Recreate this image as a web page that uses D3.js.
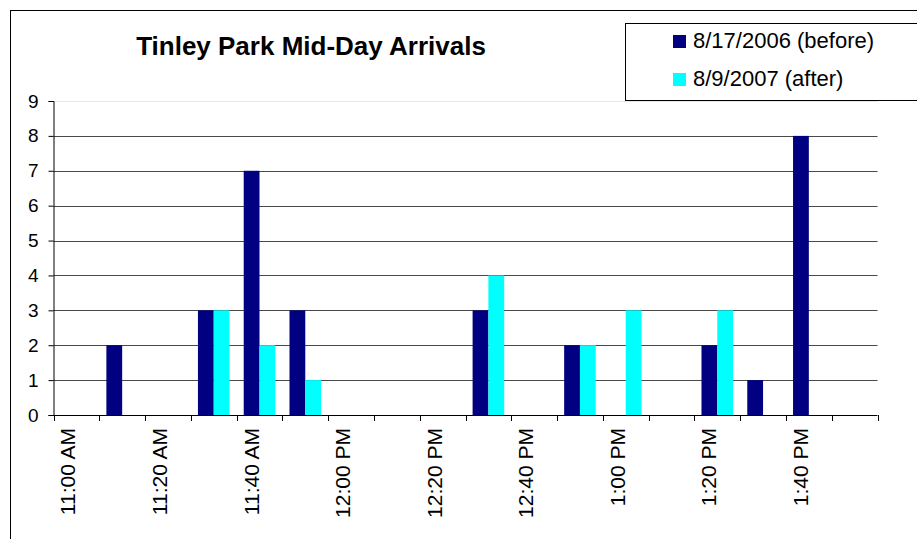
<!DOCTYPE html>
<html>
<head>
<meta charset="utf-8">
<script src="https://cdn.jsdelivr.net/npm/d3@7"></script>
<style>
  body { margin: 0; background: #fff; }
  svg { display: block; font-family: "Liberation Sans", Arial, sans-serif; }
</style>
</head>
<body>
<div id="chart"></div>
<script>
// categories: arrivals per 10 minute slot
const times = ["11:00 AM", "11:10 AM", "11:20 AM", "11:30 AM", "11:40 AM", "11:50 AM",
               "12:00 PM", "12:10 PM", "12:20 PM", "12:30 PM", "12:40 PM", "12:50 PM",
               "1:00 PM", "1:10 PM", "1:20 PM", "1:30 PM", "1:40 PM", "1:50 PM"];
const tickLabels = ["11:00 AM", "11:20 AM", "11:40 AM", "12:00 PM", "12:20 PM",
                    "12:40 PM", "1:00 PM", "1:20 PM", "1:40 PM"];
const before = [0, 2, 0, 3, 7, 3, 0, 0, 0, 3, 0, 2, 0, 0, 2, 1, 8, 0];
const after  = [0, 0, 0, 3, 2, 1, 0, 0, 0, 4, 0, 2, 3, 0, 3, 0, 0, 0];
const seriesNames = ["8/17/2006 (before)", "8/9/2007 (after)"];
const yTicks = [0, 1, 2, 3, 4, 5, 6, 7, 8, 9];

const width = 917, height = 539;
const colors = ["#000080", "#00ffff"];

const svg = d3.select("#chart").append("svg")
    .attr("width", width)
    .attr("height", height);

svg.append("rect").attr("width", width).attr("height", height).attr("fill", "#fff");

// chart area border (runs off the right / bottom edge)
svg.append("rect")
    .attr("x", 10.5).attr("y", 10.5)
    .attr("width", 1000).attr("height", 1000)
    .attr("fill", "none").attr("stroke", "#000");

const plot = { left: 53.5, right: 877.5, top: 101, bottom: 415 };

const x = d3.scaleBand().domain(times).range([plot.left, plot.right]).paddingInner(0).paddingOuter(0);
const x1 = d3.scaleBand().domain([0, 1]).range([0, x.bandwidth()]).paddingInner(0).paddingOuter(0.45);
const y = d3.scaleLinear().domain([0, 9]).range([plot.bottom, plot.top]);

// gridlines
svg.append("g")
    .selectAll("line")
    .data(yTicks.filter(d => d > 0))
    .join("line")
    .attr("x1", plot.left).attr("x2", plot.right)
    .attr("y1", d => Math.round(y(d)) + 0.5).attr("y2", d => Math.round(y(d)) + 0.5)
    .attr("stroke", d => d === 9 ? "#e6e6e6" : "#4a4a4a");

// bars
const rows = times.map((t, i) => ({ t, vals: [before[i], after[i]] }));
const groups = svg.append("g")
    .selectAll("g")
    .data(rows)
    .join("g")
    .attr("transform", d => `translate(${x(d.t)},0)`);

groups.selectAll("rect")
    .data(d => d.vals.map((v, s) => ({ v, s })).filter(e => e.v > 0))
    .join("rect")
    .attr("x", d => x1(d.s))
    .attr("width", x1.bandwidth())
    .attr("y", d => y(d.v))
    .attr("height", d => y(0) - y(d.v))
    .attr("fill", d => colors[d.s]);

// y axis
const yAxis = svg.append("g")
    .attr("transform", `translate(${plot.left},0)`)
    .call(d3.axisLeft(y).tickValues(yTicks).tickSize(5).tickPadding(10).tickFormat(d3.format("d")));
yAxis.select(".domain").attr("stroke", "#000");
yAxis.selectAll(".tick line").attr("stroke", "#000");
yAxis.selectAll("text")
    .attr("font-size", 19)
    .attr("font-family", "Liberation Sans, Arial, sans-serif")
    .attr("fill", "#000");

// x axis: line with ticks at category boundaries
const xAxis = svg.append("g");
xAxis.append("line")
    .attr("x1", plot.left).attr("x2", plot.right)
    .attr("y1", plot.bottom + 0.5).attr("y2", plot.bottom + 0.5)
    .attr("stroke", "#000");
const bounds = times.map(t => x(t)).concat([x(times[times.length - 1]) + x.bandwidth()]);
xAxis.selectAll(".xt")
    .data(bounds)
    .join("line")
    .attr("class", "xt")
    .attr("x1", d => Math.round(d) + 0.5).attr("x2", d => Math.round(d) + 0.5)
    .attr("y1", plot.bottom).attr("y2", plot.bottom + 6)
    .attr("stroke", "#000");

xAxis.selectAll("text")
    .data(tickLabels)
    .join("text")
    .attr("transform", d => `translate(${x(d) + x.bandwidth() / 2 - 1},428) rotate(-90)`)
    .attr("text-anchor", "end")
    .attr("font-size", 21)
    .attr("fill", "#000")
    .text(d => d);

// title
svg.append("text")
    .attr("x", 311).attr("y", 55)
    .attr("text-anchor", "middle")
    .attr("font-size", 26)
    .attr("font-weight", "bold")
    .attr("fill", "#000")
    .text("Tinley Park Mid-Day Arrivals");

// legend
const legend = svg.append("g");
legend.append("rect")
    .attr("x", 625.5).attr("y", 23.5)
    .attr("width", 400).attr("height", 77)
    .attr("fill", "#fff").attr("stroke", "#000");
const item = legend.selectAll(".item")
    .data(seriesNames)
    .join("g")
    .attr("class", "item")
    .attr("transform", (d, i) => `translate(673,${35 + i * 38})`);
item.append("rect")
    .attr("width", 13).attr("height", 13)
    .attr("fill", (d, i) => colors[i]);
item.append("text")
    .attr("x", 20).attr("y", 13)
    .attr("font-size", 22)
    .attr("fill", "#000")
    .text(d => d);
</script>
</body>
</html>
